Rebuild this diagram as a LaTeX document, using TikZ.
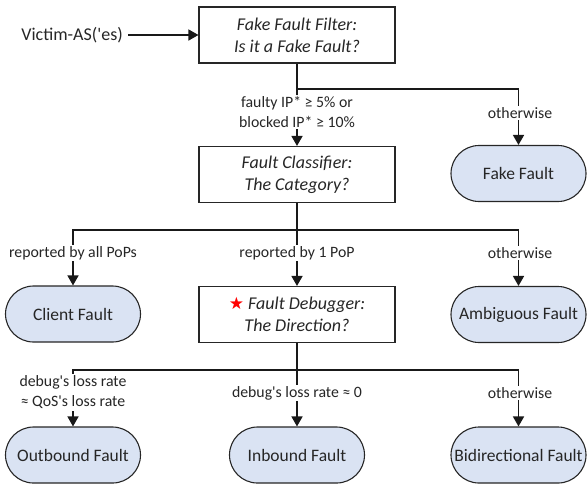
\documentclass[tikz,border=0pt]{standalone}
\usepackage{fontspec}
\setmainfont[Ligatures=TeXOff]{Carlito}
\newfontfamily\symfont{DejaVu Sans}
\usetikzlibrary{arrows.meta,shapes.misc}
\definecolor{termfill}{HTML}{DAE3F3}
\definecolor{txt}{HTML}{262626}
\tikzset{
  decision/.style={draw=black!85, line width=1.1pt, minimum width=196pt, minimum height=56pt,
    align=center, font=\fontsize{18}{22}\selectfont\itshape, text=txt},
  terminal/.style={rounded rectangle, draw=black!85, line width=1.1pt, fill=termfill,
    minimum width=139pt, minimum height=56pt, inner xsep=2pt, font=\fontsize{17.5}{20}\selectfont, text=txt},
  cond/.style={fill=white, inner sep=1.5pt, align=center, font=\fontsize{15.8}{20}\selectfont, text=txt},
  flow/.style={line width=1.5pt, draw=black!90},
  arrowflow/.style={flow, -{Triangle[width=11pt,length=10pt]}},
}
\begin{document}
\begin{tikzpicture}[x=1pt,y=-1pt]
\useasboundingbox (0,0) rectangle (588,483);

% decision boxes
\node[decision] (ff) at (297,35) {Fake Fault Filter:\\Is it a Fake Fault?};
\node[decision] (fc) at (297,174.5) {Fault Classifier:\\The Category?};
\node[decision] (fd) at (297,314.5) {{\upshape\symfont\color{red}\fontsize{17}{20}\selectfont ★} Fault Debugger:\\The Direction?};

% terminal outcomes
\node[terminal] (fake) at (518.5,173.5) {Fake Fault};
\node[terminal] (client) at (73,314) {Client Fault};
\node[terminal] (amb) at (518.5,314.5) {Ambiguous Fault};
\node[terminal] (outb) at (73,455) {Outbound Fault};
\node[terminal] (inb) at (297,455) {Inbound Fault};
\node[terminal] (bid) at (518.5,455) {Bidirectional Fault};

% input
\node[font=\fontsize{18}{22}\selectfont, text=txt, anchor=east, inner sep=0pt] (victim) at (123,35) {Victim-AS('es)};
\draw[arrowflow] (victim.east) ++(5,0) -- (ff.west);

% junctions
\coordinate (j1) at (297,89);
\coordinate (j2) at (297,230);
\coordinate (j3) at (297,370);

% stage 1
\draw[flow] (ff.south) -- (j1);
\draw[arrowflow] (j1) -| (fake.north);
\draw[arrowflow] (j1) -- (fc.north);
\node[cond] at (297,112) {faulty IP* ≥ 5\% or\\blocked IP* ≥ 10\%};
\node[cond] at (520,113) {otherwise};

% stage 2
\draw[flow] (fc.south) -- (j2);
\draw[arrowflow] (j2) -| (client.north);
\draw[arrowflow] (j2) -| (amb.north);
\draw[arrowflow] (j2) -- (fd.north);
\node[cond] at (73,253) {reported by all PoPs};
\node[cond] at (297,253) {reported by 1 PoP};
\node[cond] at (520,253) {otherwise};

% stage 3
\draw[flow] (fd.south) -- (j3);
\draw[arrowflow] (j3) -| (outb.north);
\draw[arrowflow] (j3) -| (bid.north);
\draw[arrowflow] (j3) -- (inb.north);
\node[cond] at (73,392.5) {debug's loss rate\\≈ QoS's loss rate};
\node[cond] at (297,393) {debug's loss rate ≈ 0};
\node[cond] at (520,393) {otherwise};
\end{tikzpicture}
\end{document}
